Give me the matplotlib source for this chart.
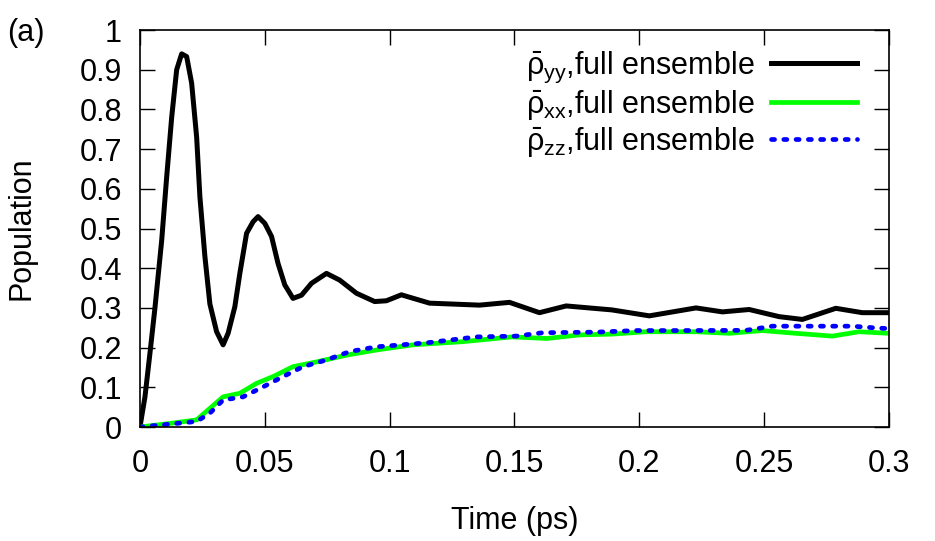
import numpy as np
import matplotlib.pyplot as plt

plt.rcParams['font.family'] = ['Liberation Sans', 'DejaVu Sans']
plt.rcParams['mathtext.fontset'] = 'custom'
plt.rcParams['mathtext.rm'] = 'Liberation Sans'
plt.rcParams['mathtext.it'] = 'Liberation Sans'
plt.rcParams['mathtext.bf'] = 'Liberation Sans:bold'

# rho_yy (black)
t_yy = [0, 0.002, 0.004, 0.006, 0.0087, 0.0107, 0.0127, 0.0147, 0.0167, 0.0187,
        0.0207, 0.0227, 0.024, 0.026, 0.028, 0.0307, 0.0333, 0.0353, 0.038, 0.040,
        0.0427, 0.0453, 0.0473, 0.050, 0.0527, 0.0553, 0.058, 0.0613, 0.0647, 0.0687,
        0.0747, 0.080, 0.0867, 0.094, 0.0987, 0.1047, 0.116, 0.136, 0.148, 0.160,
        0.1707, 0.189, 0.204, 0.2227, 0.2333, 0.244, 0.256, 0.2653, 0.2787, 0.2893, 0.30]
rho_yy = [0, 0.076, 0.186, 0.30, 0.47, 0.63, 0.78, 0.90, 0.94, 0.933,
          0.866, 0.73, 0.58, 0.43, 0.31, 0.24, 0.207, 0.236, 0.303, 0.387,
          0.488, 0.517, 0.53, 0.513, 0.48, 0.412, 0.358, 0.324, 0.332, 0.362,
          0.387, 0.37, 0.337, 0.316, 0.318, 0.333, 0.312, 0.307, 0.314, 0.288,
          0.305, 0.295, 0.28, 0.30, 0.29, 0.296, 0.278, 0.271, 0.299, 0.288, 0.288]

# rho_xx (green)
t_xx = [0, 0.012, 0.0227, 0.028, 0.0333, 0.040, 0.0467, 0.0533, 0.0613, 0.0707,
        0.0827, 0.0947, 0.1093, 0.1293, 0.149, 0.163, 0.176, 0.189, 0.2027, 0.2227,
        0.236, 0.2493, 0.2627, 0.2773, 0.288, 0.30]
rho_xx = [0, 0.009, 0.018, 0.047, 0.076, 0.085, 0.11, 0.127, 0.152, 0.164,
          0.181, 0.194, 0.207, 0.215, 0.227, 0.223, 0.232, 0.234, 0.24, 0.24,
          0.236, 0.243, 0.236, 0.229, 0.24, 0.236]

# rho_zz (blue)
t_zz = [0, 0.0227, 0.028, 0.0333, 0.0413, 0.0493, 0.0573, 0.0653, 0.0747, 0.084,
        0.0947, 0.1147, 0.1347, 0.1507, 0.1613, 0.1827, 0.1987, 0.216, 0.2427, 0.2533,
        0.2693, 0.2853, 0.296, 0.30]
rho_zz = [0, 0.014, 0.035, 0.068, 0.076, 0.101, 0.127, 0.152, 0.169, 0.19,
          0.202, 0.212, 0.227, 0.229, 0.2375, 0.239, 0.243, 0.243, 0.2435, 0.254,
          0.254, 0.254, 0.249, 0.248]

fs = 22

fig = plt.figure(figsize=(9.35, 5.41), dpi=100)
ax = fig.add_axes([0.1497, 0.2107, 0.8011, 0.7338])

ax.plot(t_yy, rho_yy, color='black', lw=3.6, solid_joinstyle='round',
        label=r'$\bar{\rho}_{yy}$,full ensemble')
ax.plot(t_xx, rho_xx, color='#00ff00', lw=3.4,
        label=r'$\bar{\rho}_{xx}$,full ensemble')
ax.plot(t_zz, rho_zz, color='#0000ff', lw=3.4, linestyle=(0, (0.65, 1.95)),
        dash_capstyle='round', label=r'$\bar{\rho}_{zz}$,full ensemble')

ax.set_xlim(0, 0.3)
ax.set_ylim(0, 1)
ax.set_xticks([0, 0.05, 0.1, 0.15, 0.2, 0.25, 0.3])
ax.set_xticklabels(['0', '0.05', '0.1', '0.15', '0.2', '0.25', '0.3'])
ax.set_yticks(np.arange(0, 1.01, 0.1))
ax.set_yticklabels(['0', '0.1', '0.2', '0.3', '0.4', '0.5', '0.6', '0.7', '0.8', '0.9', '1'])
ax.tick_params(direction='in', top=True, right=True, length=11, width=1,
               labelsize=fs, pad=13)
ax.tick_params(axis='x', pad=16)
for s in ax.spines.values():
    s.set_linewidth(1.2)

ax.set_xlabel('Time (ps)', fontsize=fs, labelpad=19)
ax.set_ylabel('Population', fontsize=fs, labelpad=31)
fig.text(0.008, 0.925, '(a)', fontsize=fs)

ax.legend(loc='upper right', frameon=False, markerfirst=False, fontsize=fs,
          handlelength=2.8, handletextpad=0.55, labelspacing=0.1,
          borderaxespad=0, borderpad=0, bbox_to_anchor=(0.957, 0.95))

fig.savefig('out.png', dpi=100)
